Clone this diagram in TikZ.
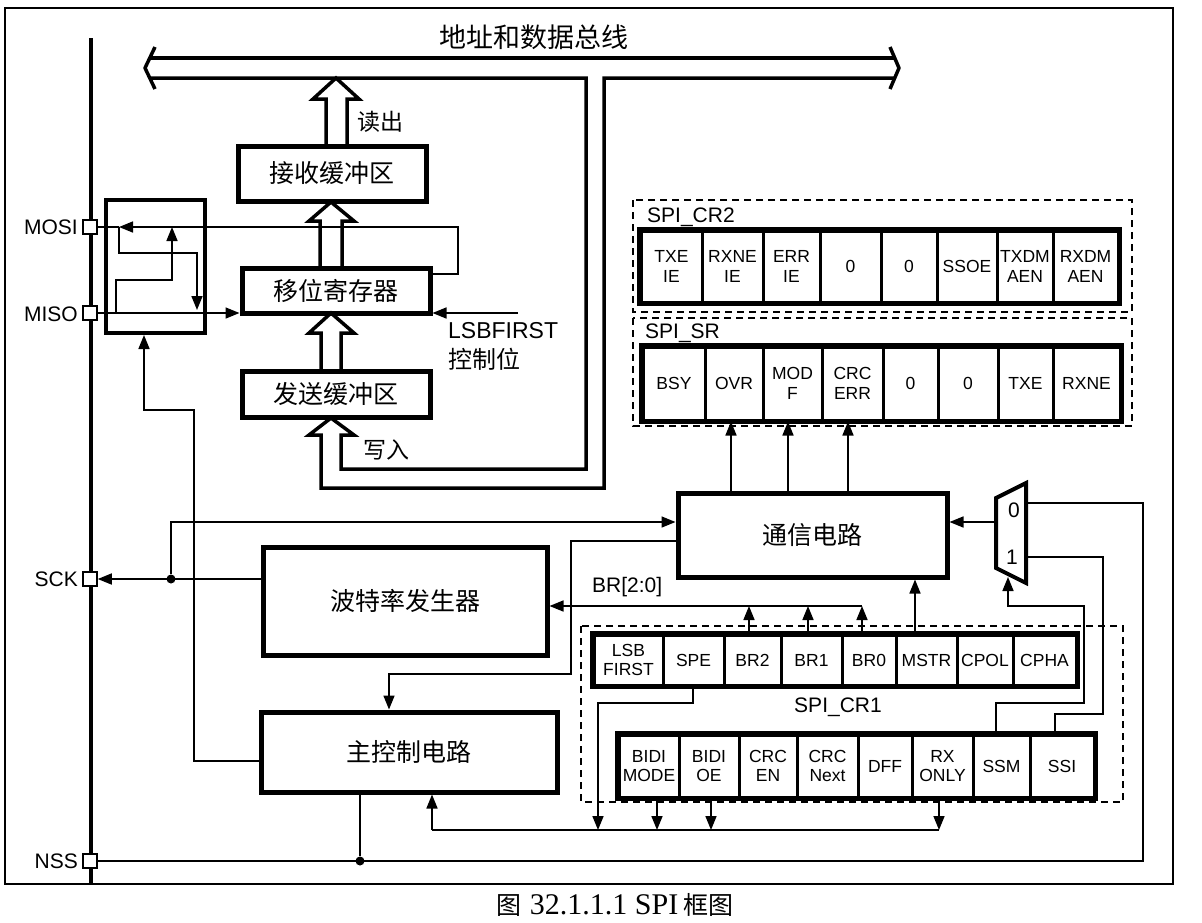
\documentclass[tikz,border=0pt]{standalone}
\usepackage{fontspec}
\setmainfont{Liberation Sans}
\newfontfamily\cjk{Noto Sans CJK SC}
\newfontfamily\serifcap{Liberation Serif}
\usetikzlibrary{arrows.meta}
\newcommand\regcellx[6]{\node[cell, minimum width={#3-#2}, minimum height=#5] (#1) at ({(#2+#3)/2},#4) {#6};}
\begin{document}
\begin{tikzpicture}[x=1pt,y=-1pt,
  conn/.style={line width=1.6pt},
  arr/.style={conn, -{Triangle[length=14pt,width=11pt]}},
  bigbox/.style={draw, line width=5pt, inner sep=0pt, align=center, font=\cjk\fontsize{25}{30}\selectfont},
  cell/.style={draw, line width=3pt, inner sep=0pt, align=center, font=\fontsize{17.5}{19.5}\selectfont},
  regframe/.style={line width=5pt},
  dashbox/.style={line width=1.4pt, dash pattern=on 7pt off 5pt},
  hollow/.style={line width=3.5pt, line join=miter},
  pin/.style={draw, fill=white, line width=1.5pt, minimum size=14pt, inner sep=0pt},
  jdot/.style={circle, fill, inner sep=0pt, minimum size=9pt},
  lbl/.style={inner sep=0pt, font=\fontsize{21}{24}\selectfont},
  cjklbl/.style={inner sep=0pt, font=\cjk\fontsize{23}{26}\selectfont},
]
\fill[white] (0,0) rectangle (1202,922);
\useasboundingbox (0,0) rectangle (1202,922);
% outer frame
\draw[line width=1.8pt] (5,8) rectangle (1173,884);
% pin bus
\draw[line width=4pt] (91,38) -- (91,884);
\node[pin] (mosi) at (90,227) {};
\node[pin] (miso) at (90,313) {};
\node[pin] (sck) at (90,579) {};
\node[pin] (nss) at (90,861) {};
\node[lbl, anchor=east] (mosil) at (78,227) {MOSI};
\node[lbl, anchor=east] (misol) at (78,314) {MISO};
\node[lbl, anchor=east] (sckl) at (78,579) {SCK};
\node[lbl, anchor=east] (nssl) at (78,861) {NSS};
% title and bus
\node[inner sep=0pt, font=\cjk\fontsize{27}{30}\selectfont] (title) at (534,37) {地址和数据总线};
\draw[hollow] (150,58) -- (894.5,58);
\draw[hollow] (150,78) -- (586,78) -- (586,469) -- (341,469) -- (341,435) -- (354,435) -- (331,418) -- (309,435) -- (321,435) -- (321,488) -- (604,488) -- (604,78) -- (894.5,78);
\draw[hollow, line join=round] (155,47) -- (145,68) -- (155,89);
\draw[hollow, line join=round] (890,47) -- (899,68) -- (890,89);
% buffers
\node[bigbox, minimum width=188, minimum height=55] (rx) at (332,173.5) {接收缓冲区};
\node[bigbox, minimum width=188, minimum height=45] (shr) at (336,290.5) {移位寄存器};
\node[bigbox, minimum width=188, minimum height=46] (tx) at (336,394) {发送缓冲区};
% hollow arrows
\draw[hollow] (326,146) -- (326,99) -- (313,99) -- (336,78) -- (359,99) -- (347,99) -- (347,146);
\draw[hollow] (320,268) -- (320,221) -- (309,221) -- (331,202) -- (354,221) -- (342,221) -- (342,268);
\draw[hollow] (321,371) -- (321,333) -- (309,333) -- (331,313) -- (354,333) -- (341,333) -- (341,371);
\node[cjklbl, anchor=west] (rdl) at (357,122) {读出};
\node[cjklbl, anchor=west] (wrl) at (363,450) {写入};
% switch box
\node[draw, line width=4pt, minimum width=99, minimum height=133, inner sep=0pt] (sw) at (155.5,266.5) {};
\coordinate (j1) at (119,227);
\draw[arr] (shr.east |- 0,274) -- (458,274) -- (458,227) -- (j1);
\draw[conn] (j1) -- (mosi.east);
\draw[arr] (j1) -- (119,253) -- (197,253) -- (197,310);
\coordinate (j2) at (116,313);
\draw[arr] (j2) -- (116,280) -- (172,280) -- (172,227);
\draw[arr] (miso.east) -- (shr.west |- miso);
\coordinate (lsb) at (518,313);
\draw[arr] (lsb) -- (shr.east |- lsb);
\node[inner sep=0pt, anchor=west, font=\fontsize{23}{26}\selectfont] (lsbl) at (448,331) {LSBFIRST};
\node[inner sep=0pt, anchor=west, font=\cjk\fontsize{24}{26}\selectfont] (ctl) at (448,359) {控制位};
% lower boxes
\node[bigbox, minimum width=284, minimum height=108] (bg) at (405,601) {波特率发生器};
\node[bigbox, minimum width=296, minimum height=80] (mc) at (409,752) {主控制电路};
\node[bigbox, minimum width=269, minimum height=84] (comm) at (812.5,535) {通信电路};
% registers
\draw[dashbox] (633,200) rectangle (1132,312);
\draw[dashbox] (633,318) rectangle (1132,426);
\draw[dashbox] (581,626) rectangle (1123,802);
\node[lbl, anchor=west] (cr2l) at (647,217) {SPI\_CR2};
\node[lbl, anchor=west] (srl) at (645,333) {SPI\_SR};
\node[lbl] (cr1l) at (838,707) {SPI\_CR1};
\regcellx{c2a}{641}{702}{266.5}{71}{TXE\\IE}
\regcellx{c2b}{702}{763}{266.5}{71}{RXNE\\IE}
\regcellx{c2c}{763}{820}{266.5}{71}{ERR\\IE}
\regcellx{c2d}{820}{881}{266.5}{71}{0}
\regcellx{c2e}{881}{937}{266.5}{71}{0}
\regcellx{c2f}{937}{997}{266.5}{71}{SSOE}
\regcellx{c2g}{997}{1053}{266.5}{71}{TXDM\\AEN}
\regcellx{c2h}{1053}{1118}{266.5}{71}{RXDM\\AEN}
\draw[regframe] (c2a.north west) rectangle (c2h.south east);
\regcellx{sra}{643}{705}{383.5}{73}{BSY}
\regcellx{srb}{705}{763}{383.5}{73}{OVR}
\regcellx{src}{763}{822}{383.5}{73}{MOD\\F}
\regcellx{srd}{822}{883}{383.5}{73}{CRC\\ERR}
\regcellx{sre}{883}{938}{383.5}{73}{0}
\regcellx{srf}{938}{998}{383.5}{73}{0}
\regcellx{srg}{998}{1053}{383.5}{73}{TXE}
\regcellx{srh}{1053}{1120}{383.5}{73}{RXNE}
\draw[regframe] (sra.north west) rectangle (srh.south east);
\regcellx{r1a}{594}{663}{660}{50}{LSB\\FIRST}
\regcellx{r1b}{663}{724}{660}{50}{SPE}
\regcellx{r1c}{724}{781}{660}{50}{BR2}
\regcellx{r1d}{781}{842}{660}{50}{BR1}
\regcellx{r1e}{842}{896}{660}{50}{BR0}
\regcellx{r1f}{896}{957}{660}{50}{MSTR}
\regcellx{r1g}{957}{1013}{660}{50}{CPOL}
\regcellx{r1h}{1013}{1076}{660}{50}{CPHA}
\draw[regframe] (r1a.north west) rectangle (r1h.south east);
\regcellx{r2a}{619}{679}{766}{62}{BIDI\\MODE}
\regcellx{r2b}{679}{739}{766}{62}{BIDI\\OE}
\regcellx{r2c}{739}{797}{766}{62}{CRC\\EN}
\regcellx{r2d}{797}{858}{766}{62}{CRC\\Next}
\regcellx{r2e}{858}{912}{766}{62}{DFF}
\regcellx{r2f}{912}{973}{766}{62}{RX\\ONLY}
\regcellx{r2g}{973}{1030}{766}{62}{SSM}
\regcellx{r2h}{1030}{1094}{766}{62}{SSI}
\draw[regframe] (r2a.north west) rectangle (r2h.south east);
% mux
\draw[line width=4pt, line join=miter] (996,498) -- (1026,483) -- (1026,583) -- (996,568) -- cycle;
\node[lbl] (m0) at (1014,510) {0};
\node[lbl] (m1) at (1012,557) {1};
\coordinate (muxo) at (996,522);
\coordinate (mux0) at (1026,503);
\coordinate (mux1) at (1026,557);
\coordinate (muxs) at (1008,577);
% main ctrl to switch
\draw[arr] (mc.west |- 0,761) -- (194,761) -- (194,410) -- (144,410) -- (sw.south -| 144,0);
% SCK
\draw[arr] (bg.west |- 0,579) -- (sck.east);
\node[jdot] (d1) at (171,579) {};
\draw[arr] (d1) -- (171,522) -- (comm.west |- 0,522);
% comm to main ctrl
\draw[arr] (comm.west |- 0,541) -- (571,541) -- (571,674) -- (389,674) -- (mc.north -| 389,0);
% status arrows
\draw[arr] (comm.north -| 731,0) -- (sra.south -| 731,0);
\draw[arr] (comm.north -| 788,0) -- (sra.south -| 788,0);
\draw[arr] (comm.north -| 848,0) -- (sra.south -| 848,0);
% BR
\coordinate (brl) at (862,606);
\draw[arr] (brl) -- (bg.east |- brl);
\node[lbl, anchor=west] (brlab) at (592,587) {BR[2:0]};
\draw[arr] (r1c.north -| 749,0) -- (749,606);
\draw[arr] (r1d.north -| 808,0) -- (808,606);
\draw[arr] (r1e.north -| 862,0) -- (brl);
\draw[arr] (r1f.north -| 915,0) -- (comm.south -| 915,0);
% mux connections
\draw[arr] (muxo) -- (comm.east |- muxo);
\node[jdot] (d2) at (360,861) {};
\draw[conn] (mux0) -- (1143,503) -- (1143,861) -- (nss.east);
\draw[conn] (mc.south -| 360,0) -- (d2);
\draw[conn] (mux1) -- (1103,557) -- (1103,714) -- (1055,714) -- (r2h.north -| 1055,0);
\draw[arr] (r2g.north -| 996,0) -- (996,703) -- (1084,703) -- (1084,606) -- (1008,606) -- (muxs);
% bottom control line
\coordinate (bl) at (432,830);
\coordinate (br) at (939,830);
\draw[arr] (bl) -- (mc.south -| bl);
\draw[conn] (bl) -- (br);
\draw[arr] (r1b.south -| 693,0) -- (693,703) -- (598,703) -- (598,830);
\draw[arr] (r2a.south -| 657,0) -- (657,830);
\draw[arr] (r2b.south -| 711,0) -- (711,830);
\draw[arr] (r2f.south -| 939,0) -- (br);
% caption
\node[inner sep=0pt, font=\fontsize{30}{32}\selectfont] (cap) at (615,905) {{\cjk\fontsize{25}{28}\selectfont 图}\ {\serifcap 32.1.1.1 SPI}\,{\cjk\fontsize{25}{28}\selectfont 框图}};
\end{tikzpicture}
\end{document}
